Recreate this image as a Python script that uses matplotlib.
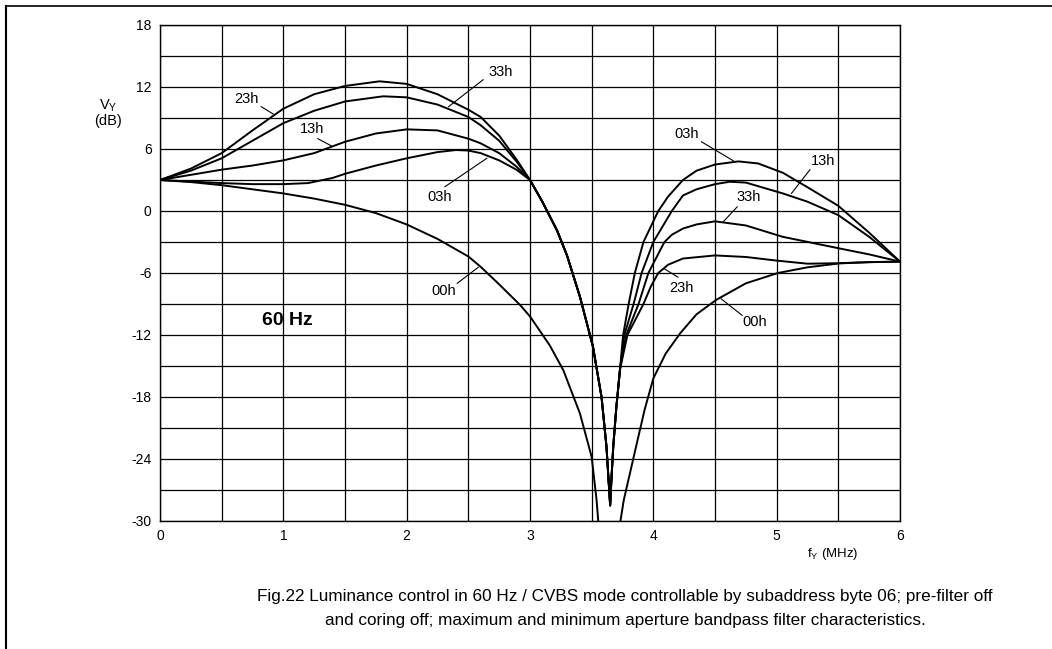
import numpy as np
import matplotlib
matplotlib.use("Agg")
import matplotlib.pyplot as plt
from matplotlib.lines import Line2D

plt.rcParams['font.family'] = ['Liberation Sans', 'DejaVu Sans']
plt.rcParams['axes.unicode_minus'] = False

# frequency (MHz) / level (dB)
x_left_common = [3.0, 3.1, 3.22, 3.3, 3.405, 3.51, 3.58, 3.62, 3.65, 3.66, 3.675, 3.70, 3.73]
y_left_common = [3.0, 0.9, -1.9, -4.3, -8.3, -13.1, -18.0, -22.8, -28.5, -26.0, -22.8, -19.0, -15.3]

x_23h = [0, 0.25, 0.5, 0.75, 1.0, 1.25, 1.5, 1.78, 2.0, 2.25, 2.5, 2.6, 2.75, 2.89] + x_left_common + \
    [3.79, 3.92, 3.98, 4.04, 4.12, 4.24, 4.5, 4.75, 5.0, 5.25, 5.5, 5.75, 6.0]
y_23h = [3.0, 4.1, 5.6, 7.8, 9.9, 11.3, 12.1, 12.55, 12.3, 11.3, 9.8, 9.1, 7.3, 5.0] + y_left_common + \
    [-12.0, -9.0, -7.3, -6.0, -5.2, -4.6, -4.3, -4.45, -4.8, -5.1, -5.05, -4.95, -4.9]

x_33h = [0, 0.25, 0.5, 0.75, 1.0, 1.25, 1.5, 1.81, 2.0, 2.25, 2.5, 2.6, 2.75, 2.89] + x_left_common + \
    [3.78, 3.88, 3.96, 4.09, 4.15, 4.24, 4.35, 4.5, 4.75, 5.05, 5.5, 5.75, 6.0]
y_33h = [3.0, 3.9, 5.1, 6.8, 8.5, 9.7, 10.6, 11.1, 11.0, 10.3, 9.1, 8.3, 6.8, 4.8] + y_left_common + \
    [-12.0, -9.0, -6.0, -3.0, -2.3, -1.7, -1.3, -1.0, -1.4, -2.5, -3.6, -4.2, -4.9]

x_13h = [0, 0.25, 0.5, 0.75, 1.0, 1.25, 1.5, 1.75, 2.0, 2.25, 2.5, 2.6, 2.75, 2.89] + x_left_common + \
    [3.765, 3.84, 3.905, 4.0, 4.15, 4.24, 4.35, 4.5, 4.62, 4.75, 5.05, 5.25, 5.5, 5.75, 6.0]
y_13h = [3.0, 3.5, 4.0, 4.4, 4.9, 5.6, 6.7, 7.5, 7.9, 7.8, 7.0, 6.55, 5.6, 4.3] + y_left_common + \
    [-12.0, -9.0, -6.0, -3.0, 0.0, 1.5, 2.1, 2.6, 2.83, 2.75, 1.7, 0.9, -0.4, -2.5, -4.9]

x_03h = [0, 0.25, 0.5, 0.75, 1.0, 1.2, 1.4, 1.5, 1.75, 2.0, 2.25, 2.4, 2.5, 2.6, 2.75, 2.89] + x_left_common + \
    [3.755, 3.80, 3.85, 3.92, 4.04, 4.12, 4.24, 4.35, 4.5, 4.69, 4.85, 5.05, 5.25, 5.5, 5.75, 6.0]
y_03h = [3.0, 2.85, 2.7, 2.6, 2.6, 2.7, 3.2, 3.6, 4.4, 5.1, 5.7, 5.9, 5.85, 5.6, 4.9, 4.0] + y_left_common + \
    [-12.0, -9.0, -6.0, -3.0, 0.0, 1.4, 3.0, 3.9, 4.5, 4.8, 4.6, 3.7, 2.3, 0.5, -2.1, -4.9]

x_00h = [0, 0.25, 0.5, 0.75, 1.0, 1.25, 1.5, 1.75, 2.0, 2.25, 2.5, 2.6, 2.75, 2.92, 3.0, 3.16, 3.27,
         3.405, 3.5, 3.54, 3.56, np.nan, 3.72, 3.76, 3.86, 3.93, 4.0, 4.1, 4.22, 4.35, 4.51, 4.75, 5.01,
         5.25, 5.51, 5.75, 6.0]
y_00h = [3.0, 2.8, 2.5, 2.1, 1.7, 1.2, 0.6, -0.2, -1.3, -2.7, -4.4, -5.4, -7.1, -9.1, -10.2, -13.0, -15.4,
         -19.6, -23.8, -28.0, -31.0, np.nan, -31.0, -28.0, -22.8, -19.2, -16.2, -13.8, -11.8, -10.0, -8.6, -7.0,
         -6.0, -5.45, -5.07, -4.95, -4.9]

# curve labels: text, text position, leader start, leader end
labels = [
    ("23h", (0.70, 10.8), (0.82, 10.1), (0.93, 9.3)),
    ("33h", (2.76, 13.5), (2.62, 12.7), (2.34, 10.1)),
    ("13h", (1.23, 7.9), (1.28, 7.0), (1.39, 6.3)),
    ("03h", (2.27, 1.4), (2.31, 2.35), (2.65, 5.1)),
    ("00h", (2.30, -7.7), (2.41, -7.0), (2.58, -5.45)),
    ("03h", (4.27, 7.5), (4.39, 6.7), (4.65, 4.85)),
    ("13h", (5.38, 4.8), (5.27, 4.0), (5.12, 1.7)),
    ("33h", (4.77, 1.4), (4.68, 0.4), (4.57, -1.0)),
    ("23h", (4.23, -7.5), (4.20, -6.4), (4.09, -5.6)),
    ("00h", (4.82, -10.7), (4.72, -10.1), (4.55, -8.5)),
]

fig = plt.figure(figsize=(10.52, 6.49), dpi=100)
ax = fig.add_axes([160 / 1052, 1 - 521 / 649, 740 / 1052, 496 / 649])

for xs, ys in [(x_23h, y_23h), (x_33h, y_33h), (x_13h, y_13h), (x_03h, y_03h), (x_00h, y_00h)]:
    ax.plot(xs, ys, color='black', lw=1.4, solid_joinstyle='round')

ax.set_xlim(0, 6)
ax.set_ylim(-30, 18)
ax.set_xticks(range(0, 7))
ax.set_xticks(np.arange(0.5, 6, 1.0), minor=True)
ax.set_yticks(range(-30, 19, 6))
ax.set_yticks(range(-27, 18, 6), minor=True)
ax.grid(True, which='both', color='black', lw=0.9)
ax.tick_params(which='both', length=0, labelsize=10, pad=6)
for sp in ax.spines.values():
    sp.set_linewidth(1.0)

for txt, tpos, l0, l1 in labels:
    ax.text(tpos[0], tpos[1], txt, fontsize=10.5, ha='center', va='center')
    ax.plot([l0[0], l1[0]], [l0[1], l1[1]], color='black', lw=0.8)

ax.text(1.03, -10.6, "60 Hz", fontsize=14, fontweight='bold', ha='center', va='center')

fig.text(108 / 1052, 1 - 106 / 649, "V$_\\mathregular{Y}$", fontsize=10.5, ha='center', va='center')
fig.text(108 / 1052, 1 - 121 / 649, "(dB)", fontsize=10.5, ha='center', va='center')
fig.text(833 / 1052, 1 - 554 / 649, "f$_\\mathregular{Y}$ (MHz)", fontsize=9.5, ha='center', va='center')

fig.text(625 / 1052, 1 - 596 / 649,
         "Fig.22 Luminance control in 60 Hz / CVBS mode controllable by subaddress byte 06; pre-filter off",
         fontsize=12.3, ha='center', va='center')
fig.text(625 / 1052, 1 - 620 / 649,
         "and coring off; maximum and minimum aperture bandpass filter characteristics.",
         fontsize=12.3, ha='center', va='center')

# page frame (top and left edges)
fig.add_artist(Line2D([6 / 1052, 1], [1 - 6 / 649, 1 - 6 / 649], color='black', lw=1.2))
fig.add_artist(Line2D([6 / 1052, 6 / 1052], [0, 1 - 6 / 649], color='black', lw=1.5))

fig.savefig("out.png", dpi=100)
